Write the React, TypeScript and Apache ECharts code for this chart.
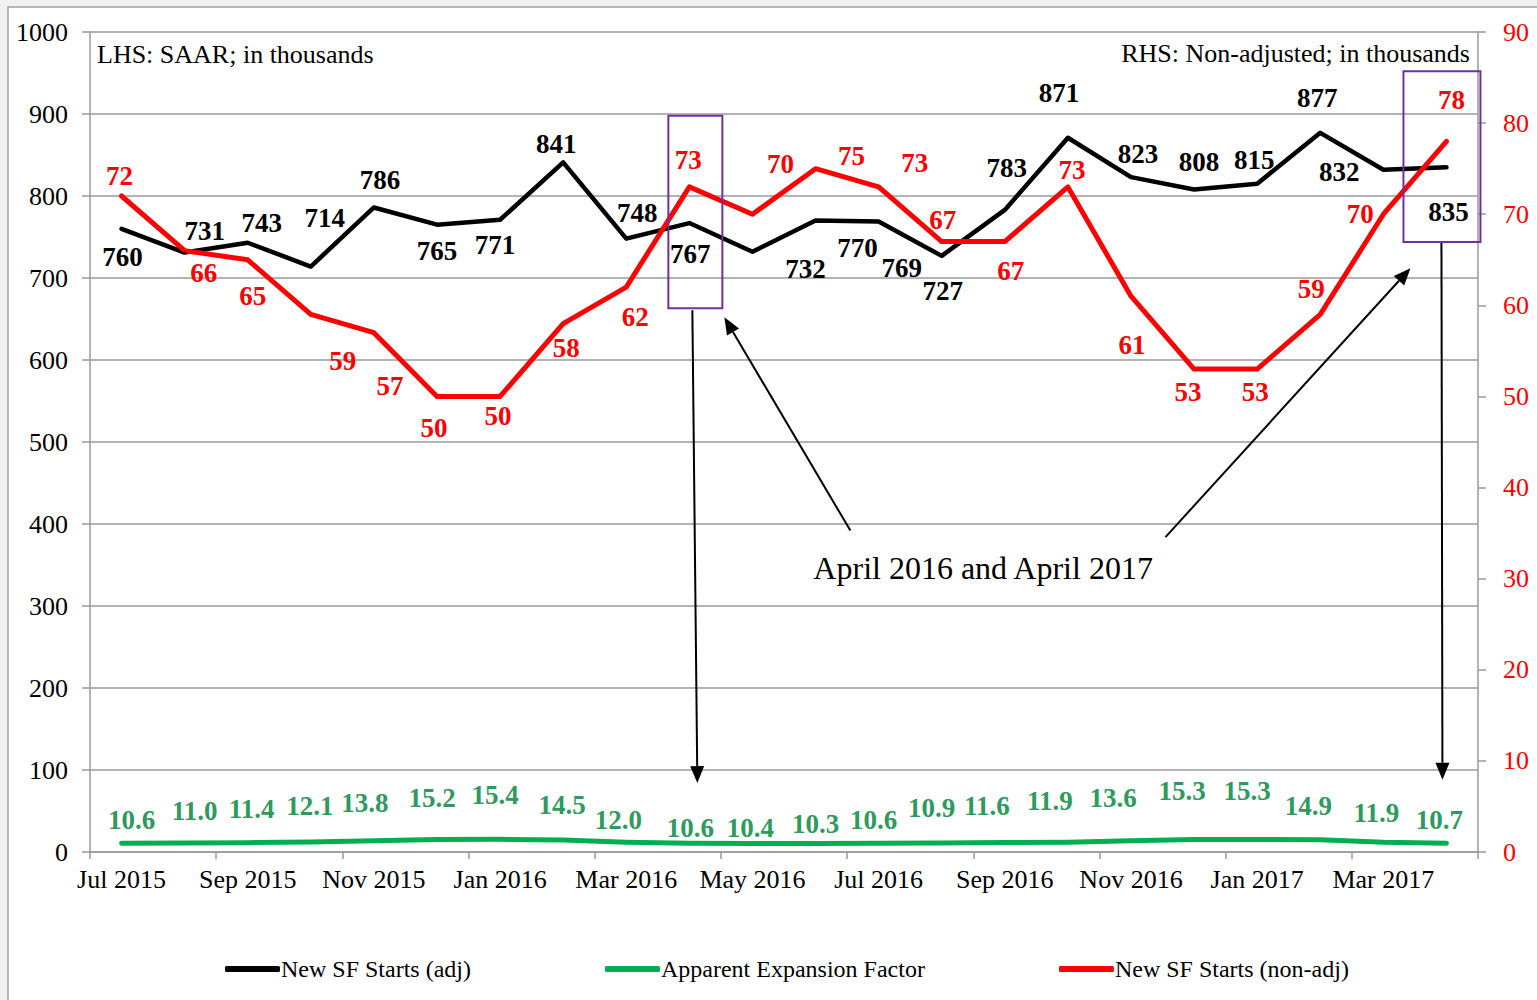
import React, { useEffect, useRef } from "react";
import * as echarts from "echarts";

const months = [
  "Jul 2015", "Aug 2015", "Sep 2015", "Oct 2015", "Nov 2015", "Dec 2015",
  "Jan 2016", "Feb 2016", "Mar 2016", "Apr 2016", "May 2016", "Jun 2016",
  "Jul 2016", "Aug 2016", "Sep 2016", "Oct 2016", "Nov 2016", "Dec 2016",
  "Jan 2017", "Feb 2017", "Mar 2017", "Apr 2017",
];
const startsAdj = [760, 731, 743, 714, 786, 765, 771, 841, 748, 767, 732, 770, 769, 727, 783, 871, 823, 808, 815, 877, 832, 835];
const expansionFactor = [10.6, 11.0, 11.4, 12.1, 13.8, 15.2, 15.4, 14.5, 12.0, 10.6, 10.4, 10.3, 10.6, 10.9, 11.6, 11.9, 13.6, 15.3, 15.3, 14.9, 11.9, 10.7];
const startsNonAdj = [72, 66, 65, 59, 57, 50, 50, 58, 62, 73, 70, 75, 73, 67, 67, 73, 61, 53, 53, 59, 70, 78];

const leftAxis = { min: 0, max: 1000, interval: 100 };
const rightAxis = { min: 0, max: 90, interval: 10 };

const seriesNames = ["New SF Starts (adj)", "Apparent Expansion Factor", "New SF Starts (non-adj)"];

// label placement offsets (pixels, relative to each point)
const adjLabelOffsets: [number, number][] = [
  [1, 28], [20, -22], [14, -20], [14, -49], [6, -27], [0, 26], [-5, 25], [-7, -18],
  [11, -26], [1, 31], [53, 17], [42, 27], [23, 47], [1, 35], [2, -42], [-9, -45],
  [7, -23], [5, -27], [-3, -24], [-3, -35], [-44, 2], [2, 45],
];
const nonAdjLabelOffsets: [number, number][] = [
  [-2, -20], [19, 22], [5, 36], [32, 47], [16, 53], [-3, 32], [-2, 20], [3, 24],
  [9, 30], [-1, -27], [28, -50], [36, -13], [36, -24], [1, -22], [6, 29], [4, -17],
  [1, 49], [-6, 23], [-2, 23], [-9, -25], [-23, 0], [5, -41],
];
const factorLabelOffsets: [number, number][] = [
  [10, -23], [10, -32], [4, -34], [-1, -36], [-9, -38], [-5, -42], [-5, -44], [-1, -35],
  [-8, -22], [1, -15], [-2, -15], [0, -20], [-5, -23], [-10, -35], [-18, -36], [-18, -41],
  [-18, -43], [-12, -48], [-10, -48], [-12, -34], [-7, -29], [-7, -23],
];

const SERIF = "'Liberation Serif', 'Times New Roman', serif";
const GRAY = "#9a9a9a";

function arrow(x1: number, y1: number, x2: number, y2: number) {
  const dx = x2 - x1, dy = y2 - y1;
  const len = Math.hypot(dx, dy);
  const ux = dx / len, uy = dy / len;
  const hl = 17, hw = 7;
  const bx = x2 - ux * hl, by = y2 - uy * hl;
  const px = -uy, py = ux;
  return [
    { type: "line", z: 100, shape: { x1, y1, x2: bx, y2: by }, style: { stroke: "#000", lineWidth: 2 } },
    {
      type: "polygon", z: 100,
      shape: { points: [[x2, y2], [bx + px * hw, by + py * hw], [bx - px * hw, by - py * hw]] },
      style: { fill: "#000" },
    },
  ];
}

export default function App() {
  const ref = useRef<HTMLDivElement>(null);

  useEffect(() => {
    if (!ref.current) return;
    const chart = echarts.init(ref.current, undefined, { renderer: "svg" });

    const labelBase = {
      show: true,
      position: "inside",
      fontFamily: SERIF,
      fontWeight: "bold",
      fontSize: 27,
    };

    const option: any = {
      animation: false,
      backgroundColor: "transparent",
      grid: { left: 90, right: 59, top: 32, bottom: 148, containLabel: false },
      legend: {
        left: 220,
        top: 952,
        icon: "roundRect",
        itemWidth: 55,
        itemHeight: 6,
        itemGap: 134,
        textStyle: { fontFamily: SERIF, fontSize: 24, color: "#000", padding: [0, 0, 0, -4] },
        data: seriesNames,
      },
      xAxis: {
        type: "category",
        data: months,
        boundaryGap: true,
        axisLine: { show: true, lineStyle: { color: GRAY, width: 1.5 } },
        axisTick: { show: true, interval: 1, length: 7, lineStyle: { color: GRAY, width: 1.5 } },
        axisLabel: { interval: 1, fontFamily: SERIF, fontSize: 26, color: "#000", margin: 14 },
        splitLine: { show: false },
      },
      yAxis: [
        {
          type: "value",
          position: "left",
          min: leftAxis.min,
          max: leftAxis.max,
          interval: leftAxis.interval,
          axisLine: { show: true, lineStyle: { color: GRAY, width: 1.5 } },
          axisTick: { show: true, length: 8, lineStyle: { color: GRAY, width: 1.5 } },
          axisLabel: {
            fontFamily: SERIF, fontSize: 26, color: "#000", margin: 22,
            formatter: (v: number) => String(v),
          },
          splitLine: { show: true, lineStyle: { color: GRAY, width: 1.5 } },
        },
        {
          type: "value",
          position: "right",
          min: rightAxis.min,
          max: rightAxis.max,
          interval: rightAxis.interval,
          axisLine: { show: true, lineStyle: { color: GRAY, width: 1.5 } },
          axisTick: { show: true, length: 8, lineStyle: { color: GRAY, width: 1.5 } },
          axisLabel: {
            fontFamily: SERIF, fontSize: 26, color: "#ff0000", margin: 25,
            formatter: (v: number) => String(v),
          },
          splitLine: { show: false },
        },
      ],
      series: [
        {
          name: seriesNames[0],
          type: "line",
          yAxisIndex: 0,
          color: "#000000",
          symbol: "circle",
          symbolSize: 2,
          showSymbol: true,
          showAllSymbol: true,
          lineStyle: { color: "#000000", width: 4.5, cap: "round", join: "round" },
          label: { ...labelBase, color: "#000" },
          data: startsAdj.map((v, i) => ({ value: v, label: { offset: adjLabelOffsets[i] } })),
        },
        {
          name: seriesNames[1],
          type: "line",
          yAxisIndex: 0,
          color: "#00b050",
          symbol: "circle",
          symbolSize: 2,
          showSymbol: true,
          showAllSymbol: true,
          lineStyle: { color: "#00b050", width: 5, cap: "round", join: "round" },
          label: {
            ...labelBase,
            color: "#2e9a5e",
            formatter: (p: any) => Number(p.value).toFixed(1),
          },
          data: expansionFactor.map((v, i) => ({ value: v, label: { offset: factorLabelOffsets[i] } })),
        },
        {
          name: seriesNames[2],
          type: "line",
          yAxisIndex: 1,
          color: "#ff0000",
          symbol: "circle",
          symbolSize: 2,
          showSymbol: true,
          showAllSymbol: true,
          lineStyle: { color: "#ff0000", width: 5, cap: "round", join: "round" },
          label: { ...labelBase, color: "#ff0000" },
          data: startsNonAdj.map((v, i) => ({ value: v, label: { offset: nonAdjLabelOffsets[i] } })),
        },
      ],
    };

    chart.setOption(option);

    const xAt = (cat: string) => chart.convertToPixel({ xAxisIndex: 0 }, cat) as number;
    const yL = (v: number) => chart.convertToPixel({ yAxisIndex: 0 }, v) as number;

    const xA16 = xAt("Apr 2016");
    const xA17 = xAt("Apr 2017");

    const graphic: any[] = [
      {
        type: "rect", z: -100, silent: true,
        shape: { x: 0, y: 0, width: 1537, height: 1000 },
        style: { fill: "#f1f1f1" },
      },
      {
        type: "rect", z: -99, silent: true,
        shape: { x: 8, y: 7, width: 1540, height: 1000 },
        style: { fill: "#ffffff", stroke: "#a0a0a0", lineWidth: 1.5 },
      },
      {
        type: "text", z: 100, x: 97, y: 54,
        style: { text: "LHS: SAAR; in thousands", font: `26px ${SERIF}`, fill: "#000", verticalAlign: "middle", align: "left" },
      },
      {
        type: "text", z: 100, x: 1470, y: 53,
        style: { text: "RHS: Non-adjusted; in thousands", font: `26px ${SERIF}`, fill: "#000", verticalAlign: "middle", align: "right" },
      },
      {
        type: "rect", z: 100,
        shape: { x: xA16 - 21, y: yL(898), width: 54, height: yL(663) - yL(898) },
        style: { fill: "none", stroke: "#7030a0", lineWidth: 2 },
      },
      {
        type: "rect", z: 100,
        shape: { x: xA17 - 43, y: yL(952), width: 77, height: yL(744) - yL(952) },
        style: { fill: "none", stroke: "#7030a0", lineWidth: 2 },
      },
      ...arrow(xA16 + 3, yL(663) + 2, xA16 + 8, yL(84)),
      ...arrow(xA17 - 5, yL(744) + 1, xA17 - 4, yL(88)),
      ...arrow(xA16 + 161, yL(392), xA16 + 35, yL(652)),
      ...arrow(xA17 - 281, yL(384), xA17 - 36, yL(712)),
      {
        type: "text", z: 100, x: xA16 + 124, y: yL(346),
        style: { text: "April 2016 and April 2017", font: `32px ${SERIF}`, fill: "#000", verticalAlign: "middle", align: "left" },
      },
    ];

    chart.setOption({ graphic });

    return () => chart.dispose();
  }, []);

  return (
    <div
      ref={ref}
      style={{ position: "absolute", left: 0, top: 0, width: 1537, height: 1000 }}
    />
  );
}
